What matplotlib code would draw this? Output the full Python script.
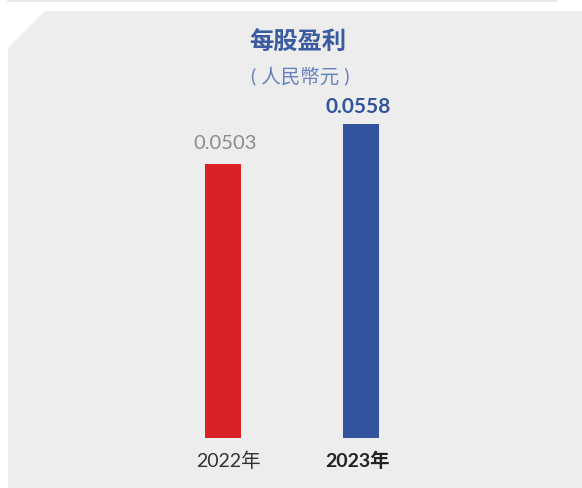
import matplotlib
matplotlib.use('Agg')
from matplotlib import pyplot as plt
from matplotlib.patches import Polygon
from matplotlib.lines import Line2D
from matplotlib.transforms import ScaledTranslation

plt.rcParams['font.family'] = ['Lato', 'Noto Sans CJK TC', 'DejaVu Sans']

# data
years = ['2022年', '2023年']
eps = [0.0503, 0.0558]
value_labels = ['0.0503', '0.0558']
bar_colors = ['#db2128', '#32549e']

W, H = 582, 488
fig = plt.figure(figsize=(W / 100, H / 100), dpi=100, facecolor='white')


def fx(px):
    return px / W


def fy(py):
    return 1 - py / H


# grey panel with cut top-left corner, thin line above
panel = Polygon([(fx(45), fy(11)), (fx(582), fy(11)), (fx(582), fy(488)),
                 (fx(8), fy(488)), (fx(8), fy(48))],
                closed=True, transform=fig.transFigure,
                facecolor='#ededed', edgecolor='none', zorder=-5)
fig.patches.append(panel)
fig.lines.append(Line2D([fx(8), fx(556)], [fy(0.8), fy(0.8)], transform=fig.transFigure,
                        color='#e3e3e3', lw=1.2, zorder=-5))

# axes placed so that bars land where the reference has them
ax = fig.add_axes([0, fy(437.5), 1, (437.5 - 100) / H])
ax.set_zorder(2)
ax.set_facecolor('none')
ax.bar([0, 1], eps, width=36 / 138, color=bar_colors, zorder=2)
ax.set_xlim(-223 / 138, (582 - 223) / 138)
ax.set_ylim(0.0127, 0.0591)
for s in ax.spines.values():
    s.set_visible(False)
ax.set_yticks([])
ax.set_xticks([0, 1], years)
ax.tick_params(axis='x', length=0, pad=10)
tl = ax.get_xticklabels()
tl[0].set(fontsize=14, color='#333333')
tl[1].set(fontsize=14, color='#222222', fontweight='bold')
for lab, dx in zip(tl, [5, -3]):
    lab.set_transform(lab.get_transform() + ScaledTranslation(dx / 100, 0, fig.dpi_scale_trans))

# value labels
ax.annotate(value_labels[0], xy=(0, eps[0]), xytext=(1.5, 15), textcoords='offset points',
            ha='center', va='center', fontsize=14.5, color='#8c8c8c')
ax.annotate(value_labels[1], xy=(1, eps[1]), xytext=(-2, 12.5), textcoords='offset points',
            ha='center', va='center', fontsize=15, color='#32549e', fontweight='bold')

fig.text(fx(298), fy(42), '每股盈利', ha='center', va='center', fontsize=17.5,
         color='#3b5ba0', fontweight='bold')
fig.text(fx(300), fy(77), '( 人民幣元 )', ha='center', va='center', fontsize=14,
         color='#6482bd')

fig.savefig('out.png', dpi=100, facecolor='white')
